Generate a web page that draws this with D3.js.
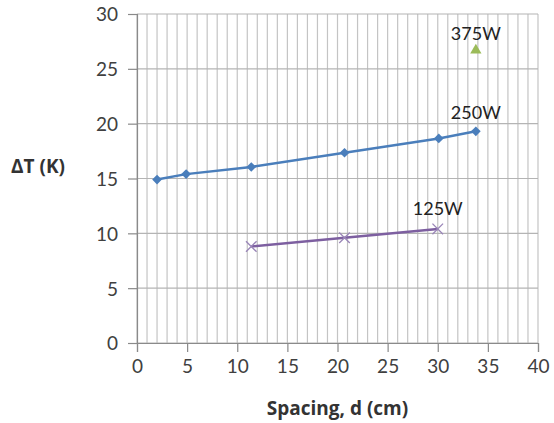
<!DOCTYPE html>
<html>
<head>
<meta charset="utf-8">
<script src="https://cdn.jsdelivr.net/npm/d3@7"></script>
<style>
  body { margin: 0; background: #fff; }
  svg { display: block; font-family: Lato, "Open Sans", sans-serif; }
</style>
</head>
<body>
<script>
// data
var spacing250 = [2, 4.9, 11.4, 20.7, 30.1, 33.8];
var dT250 = [14.9, 15.4, 16.05, 17.35, 18.65, 19.3];
var spacing125 = [11.4, 20.7, 30.0];
var dT125 = [8.8, 9.6, 10.4];
var spacing375 = [33.8];
var dT375 = [26.7];
var seriesNames = ["250W", "125W", "375W"];
var xTicks = [0, 5, 10, 15, 20, 25, 30, 35, 40];
var yTicks = [0, 5, 10, 15, 20, 25, 30];

var width = 554, height = 423;
var margin = {top: 14, right: 16, bottom: 80, left: 137};

var x = d3.scaleLinear().domain([0, 40]).range([margin.left, width - margin.right]);
var y = d3.scaleLinear().domain([0, 30]).range([height - margin.bottom, margin.top]);

var svg = d3.select("body").append("svg")
  .attr("width", width)
  .attr("height", height);

// vertical minor grid, every 1 cm
svg.append("g")
  .selectAll("line")
  .data(d3.range(0, 41, 1))
  .enter().append("line")
    .attr("x1", function(d) { return x(d); })
    .attr("x2", function(d) { return x(d); })
    .attr("y1", y(0))
    .attr("y2", y(30))
    .attr("stroke", "#c4c4c4")
    .attr("stroke-width", 1.2);

// horizontal grid
svg.append("g")
  .selectAll("line")
  .data(yTicks)
  .enter().append("line")
    .attr("x1", x(0))
    .attr("x2", x(40))
    .attr("y1", function(d) { return y(d); })
    .attr("y2", function(d) { return y(d); })
    .attr("stroke", "#b4b4b4")
    .attr("stroke-width", 1.2);

var xAxis = d3.axisBottom(x).tickValues(xTicks).tickSize(9).tickPadding(8);
var yAxis = d3.axisLeft(y).tickValues(yTicks).tickSize(9).tickPadding(10);

var gx = svg.append("g")
  .attr("transform", "translate(0," + y(0) + ")")
  .call(xAxis);
var gy = svg.append("g")
  .attr("transform", "translate(" + x(0) + ",0)")
  .call(yAxis);

[gx, gy].forEach(function(g) {
  g.select(".domain").attr("stroke", "#8a8a8a").attr("stroke-width", 1.2);
  g.selectAll(".tick line").attr("stroke", "#8a8a8a").attr("stroke-width", 1.2);
  g.selectAll(".tick text")
    .attr("font-family", "Lato, sans-serif")
    .attr("font-size", 19)
    .attr("fill", "#404040");
});
gy.selectAll(".tick text").attr("dy", "0.36em");

// lines
var line = d3.line()
  .x(function(d) { return x(d[0]); })
  .y(function(d) { return y(d[1]); });

var pts250 = d3.zip(spacing250, dT250);
var pts125 = d3.zip(spacing125, dT125);
var pts375 = d3.zip(spacing375, dT375);

svg.append("path")
  .datum(pts250)
  .attr("d", line)
  .attr("fill", "none")
  .attr("stroke", "#4a7ebb")
  .attr("stroke-width", 2.5);

svg.append("path")
  .datum(pts125)
  .attr("d", line)
  .attr("fill", "none")
  .attr("stroke", "#7d5fa0")
  .attr("stroke-width", 2.5);

// markers
svg.append("g")
  .selectAll("path")
  .data(pts250)
  .enter().append("path")
    .attr("d", d3.symbol().type(d3.symbolDiamond2).size(60))
    .attr("transform", function(d) { return "translate(" + x(d[0]) + "," + y(d[1]) + ")"; })
    .attr("fill", "#4a7ebb");

svg.append("g")
  .selectAll("path")
  .data(pts125)
  .enter().append("path")
    .attr("d", d3.symbol().type(d3.symbolX).size(75))
    .attr("transform", function(d) { return "translate(" + x(d[0]) + "," + y(d[1]) + ")"; })
    .attr("fill", "none")
    .attr("stroke", "#9a86b8")
    .attr("stroke-width", 1.3);

svg.append("g")
  .selectAll("path")
  .data(pts375)
  .enter().append("path")
    .attr("d", d3.symbol().type(d3.symbolTriangle).size(55))
    .attr("transform", function(d) { return "translate(" + x(d[0]) + "," + y(d[1]) + ")"; })
    .attr("fill", "#9bbb59");

// data labels on last point of each series
var lastPts = [pts250[pts250.length - 1], pts125[pts125.length - 1], pts375[0]];
var labelOffset = [12, 14, 10];
svg.append("g")
  .selectAll("text")
  .data(lastPts)
  .enter().append("text")
    .attr("x", function(d) { return x(d[0]); })
    .attr("y", function(d, i) { return y(d[1]) - labelOffset[i]; })
    .attr("text-anchor", "middle")
    .attr("font-size", 18)
    .attr("fill", "#222")
    .text(function(d, i) { return seriesNames[i]; });

// axis titles
svg.append("text")
  .attr("x", 38)
  .attr("y", 173)
  .attr("text-anchor", "middle")
  .attr("font-family", "'Open Sans', sans-serif")
  .attr("font-size", 19)
  .attr("font-weight", "bold")
  .attr("fill", "#333")
  .text("ΔT (K)");

svg.append("text")
  .attr("x", (x(0) + x(40)) / 2)
  .attr("y", 415)
  .attr("text-anchor", "middle")
  .attr("font-family", "'Open Sans', sans-serif")
  .attr("font-size", 19)
  .attr("font-weight", "bold")
  .attr("fill", "#333")
  .text("Spacing, d (cm)");
</script>
</body>
</html>
